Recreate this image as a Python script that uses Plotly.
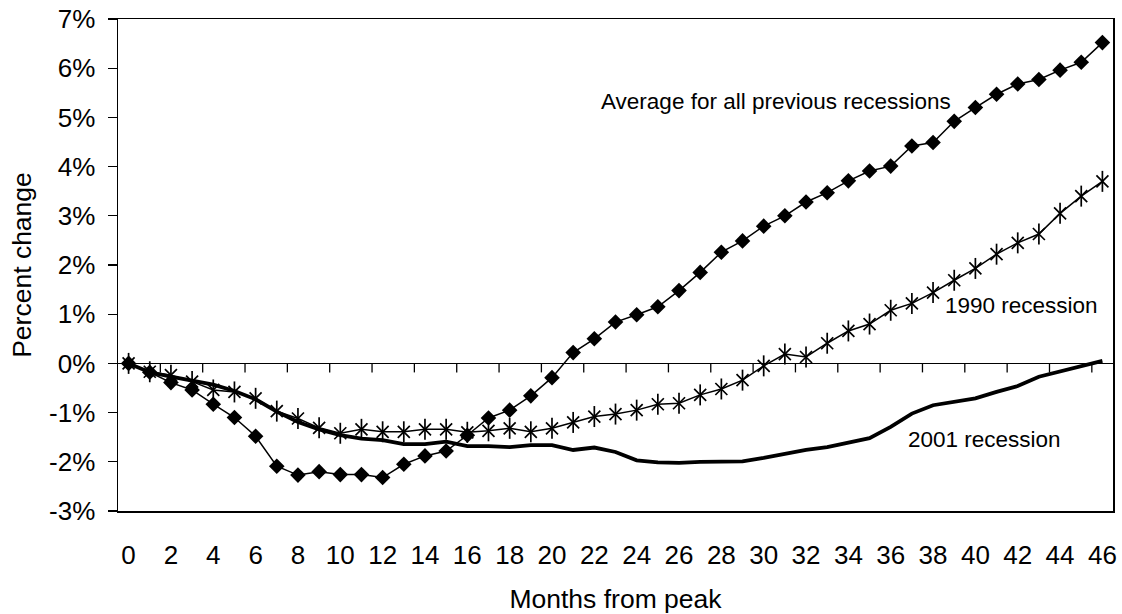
import plotly.graph_objects as go

months = list(range(0, 47))
avg_prev = [0, -0.18, -0.39, -0.54, -0.83, -1.10, -1.48, -2.09, -2.27, -2.20, -2.26, -2.26, -2.32,
            -2.05, -1.88, -1.78, -1.46, -1.11, -0.95, -0.66, -0.29, 0.22, 0.50, 0.84, 0.99, 1.15, 1.48,
            1.85, 2.26, 2.49, 2.79, 3.00, 3.28, 3.47, 3.71, 3.91, 4.01, 4.42, 4.49, 4.92, 5.20, 5.47,
            5.68, 5.77, 5.96, 6.12, 6.52]
rec_1990 = [0, -0.17, -0.24, -0.37, -0.54, -0.58, -0.71, -0.97, -1.12, -1.31, -1.42, -1.34, -1.39,
            -1.39, -1.34, -1.34, -1.40, -1.37, -1.32, -1.39, -1.32, -1.20, -1.08, -1.03, -0.95, -0.83, -0.81,
            -0.64, -0.52, -0.34, -0.05, 0.19, 0.13, 0.41, 0.66, 0.80, 1.08, 1.22, 1.44, 1.69, 1.93, 2.22,
            2.45, 2.63, 3.05, 3.40, 3.70]
rec_2001 = [0, -0.18, -0.27, -0.35, -0.43, -0.56, -0.73, -0.98, -1.19, -1.34, -1.46, -1.53, -1.56,
            -1.64, -1.64, -1.59, -1.68, -1.68, -1.70, -1.66, -1.66, -1.76, -1.71, -1.80, -1.97, -2.01, -2.02,
            -2.00, -2.00, -1.99, -1.92, -1.83, -1.76, -1.70, -1.61, -1.52, -1.29, -1.02, -0.85, -0.78, -0.71,
            -0.58, -0.46, -0.27, -0.16, -0.05, 0.05]

x_tick_vals = list(range(0, 47, 2))
x_tick_text = [str(v) for v in x_tick_vals]
zero_tick_vals = [v + 1.5 for v in range(0, 46, 2)]
y_tick_vals = list(range(-3, 8))
y_tick_text = ["-3%", "-2%", "-1%", "0%", "1%", "2%", "3%", "4%", "5%", "6%", "7%"]

labels = ["Average for all previous recessions", "1990 recession", "2001 recession"]
label_x = [30.6, 42.2, 40.45]
label_y = [5.33, 1.18, -1.55]

FONT = "Liberation Sans, Arial, Helvetica, sans-serif"
Y_RANGE = [-3, 7]
PLOT_H = 614 - 19 - 103
TICK_PX = 9
tick_depth = TICK_PX * (Y_RANGE[1] - Y_RANGE[0]) / PLOT_H

# segments for the tick marks hanging below the 0% category axis line
tick_x, tick_y = [], []
for p in zero_tick_vals:
    tick_x += [p, p, None]
    tick_y += [0, -tick_depth, None]

fig = go.Figure()
fig.add_trace(go.Scatter(x=tick_x, y=tick_y, mode="lines", connectgaps=False,
                         line=dict(color="black", width=1.3),
                         showlegend=False, hoverinfo="skip"))
fig.add_trace(go.Scatter(x=months, y=rec_2001, mode="lines",
                         line=dict(color="black", width=3.8), showlegend=False))
fig.add_trace(go.Scatter(x=months, y=rec_1990, mode="lines+markers",
                         line=dict(color="black", width=1.5),
                         marker=dict(symbol="x-thin-open", size=12, color="black",
                                     line=dict(color="black", width=1.7)),
                         showlegend=False))
fig.add_trace(go.Scatter(x=months, y=rec_1990, mode="markers",
                         marker=dict(symbol="line-ns-open", size=15, color="black",
                                     line=dict(color="black", width=1.7)),
                         showlegend=False))
fig.add_trace(go.Scatter(x=months, y=avg_prev, mode="lines+markers",
                         line=dict(color="black", width=1.5),
                         marker=dict(symbol="diamond", size=12, color="black"),
                         showlegend=False))

for t, lx, ly in zip(labels, label_x, label_y):
    fig.add_annotation(x=lx, y=ly, xref="x", yref="y", text=t, showarrow=False,
                       font=dict(family=FONT, size=22.5, color="black"))

fig.update_layout(
    width=1122, height=614,
    margin=dict(l=118, r=9, t=19, b=103, autoexpand=False),
    paper_bgcolor="white", plot_bgcolor="white",
    font=dict(family=FONT, size=26, color="black"),
    hovermode=False,
    xaxis=dict(range=[-0.5, 46.5], tickmode="array", tickvals=x_tick_vals, ticktext=x_tick_text,
               ticks="", showgrid=False, zeroline=False, showline=True, linecolor="black",
               linewidth=1.5, mirror=True, ticklabelstandoff=20, automargin=False,
               title=dict(text="Months from peak", font=dict(size=26.5), standoff=22)),
    yaxis=dict(range=Y_RANGE, tickmode="array", tickvals=y_tick_vals, ticktext=y_tick_text,
               ticks="outside", ticklen=9, tickwidth=1.2, tickcolor="black",
               showgrid=False, zeroline=True, zerolinecolor="black", zerolinewidth=1.5,
               showline=True, linecolor="black", linewidth=1.5, mirror=True,
               ticklabelstandoff=7, automargin=False,
               title=dict(text="Percent change", font=dict(size=26.5), standoff=10)),
)

fig.write_html("out.html", config={"displayModeBar": False, "staticPlot": True},
               post_script="document.body.style.margin='0px';")
